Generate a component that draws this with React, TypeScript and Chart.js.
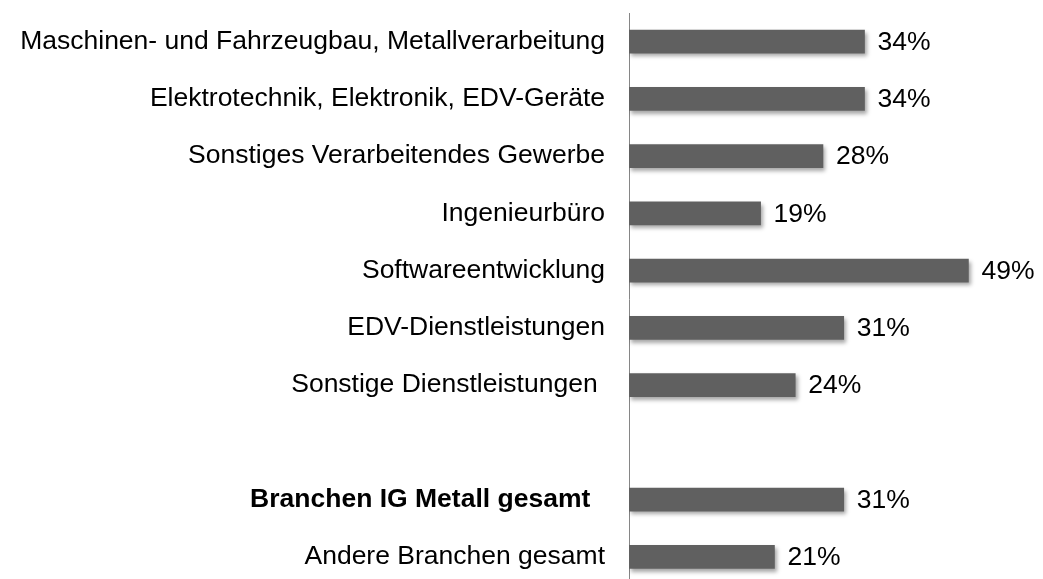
import React, { useEffect, useRef } from "react";
import { Chart, registerables } from "chart.js";

Chart.register(...registerables);

const categories: string[] = [
  "Maschinen- und Fahrzeugbau, Metallverarbeitung",
  "Elektrotechnik, Elektronik, EDV-Geräte",
  "Sonstiges Verarbeitendes Gewerbe",
  "Ingenieurbüro",
  "Softwareentwicklung",
  "EDV-Dienstleistungen",
  "Sonstige Dienstleistungen ",
  "",
  "Branchen IG Metall gesamt  ",
  "Andere Branchen gesamt",
];

const values: (number | null)[] = [34, 34, 28, 19, 49, 31, 24, null, 31, 21];
const valueLabels: string[] = ["34%", "34%", "28%", "19%", "49%", "31%", "24%", "", "31%", "21%"];
const boldIndex = 8;

const FONT = "'Liberation Sans', Arial, sans-serif";
const FONT_SIZE = 26.5;

const shadowPlugin = {
  id: "barShadow",
  beforeDatasetsDraw(chart: any) {
    const ctx = chart.ctx;
    ctx.save();
    ctx.shadowColor = "rgba(0,0,0,0.35)";
    ctx.shadowBlur = 4;
    ctx.shadowOffsetX = 2;
    ctx.shadowOffsetY = 3;
  },
  afterDatasetsDraw(chart: any) {
    chart.ctx.restore();
  },
};

const valueLabelPlugin = {
  id: "valueLabels",
  afterDraw(chart: any) {
    const ctx = chart.ctx;
    const meta = chart.getDatasetMeta(0);
    ctx.save();
    ctx.font = `${FONT_SIZE}px ${FONT}`;
    ctx.fillStyle = "#000";
    ctx.textAlign = "left";
    ctx.textBaseline = "middle";
    meta.data.forEach((bar: any, i: number) => {
      if (values[i] == null) return;
      ctx.fillText(valueLabels[i], bar.x + 13, bar.y + 1);
    });
    ctx.restore();
  },
};

export default function App() {
  const ref = useRef<HTMLCanvasElement>(null);
  useEffect(() => {
    if (!ref.current) return;
    const chart = new Chart(ref.current, {
      type: "bar",
      data: {
        labels: categories,
        datasets: [
          {
            data: values as any,
            backgroundColor: "#606060",
            barThickness: 23,
            borderWidth: 0,
          },
        ],
      },
      options: {
        indexAxis: "y",
        animation: false,
        responsive: false,
        devicePixelRatio: 1,
        layout: { padding: { top: 13, bottom: 4.5, right: 33, left: 0 } },
        plugins: { legend: { display: false }, tooltip: { enabled: false } },
        scales: {
          x: { display: false, min: 0, max: 55 },
          y: {
            afterFit(scale: any) {
              scale.width = 629;
              scale.paddingTop = 0;
              scale.paddingBottom = 0;
            },
            grid: { display: false, drawTicks: false },
            border: { display: true, color: "#868686", width: 1 },
            ticks: {
              padding: 24,
              color: "#000",
              autoSkip: false,
              font: (c: any) => ({
                family: FONT,
                size: FONT_SIZE,
                weight: c.index === boldIndex ? "bold" : "normal",
              }),
            },
          },
        },
      },
      plugins: [shadowPlugin, valueLabelPlugin],
    });
    return () => chart.destroy();
  }, []);
  return (
    <div style={{ position: "fixed", left: 0, top: 0, width: 1043, height: 579, overflow: "hidden", background: "#fff" }}>
      <canvas ref={ref} width={1043} height={590} style={{ display: "block" }} />
    </div>
  );
}
